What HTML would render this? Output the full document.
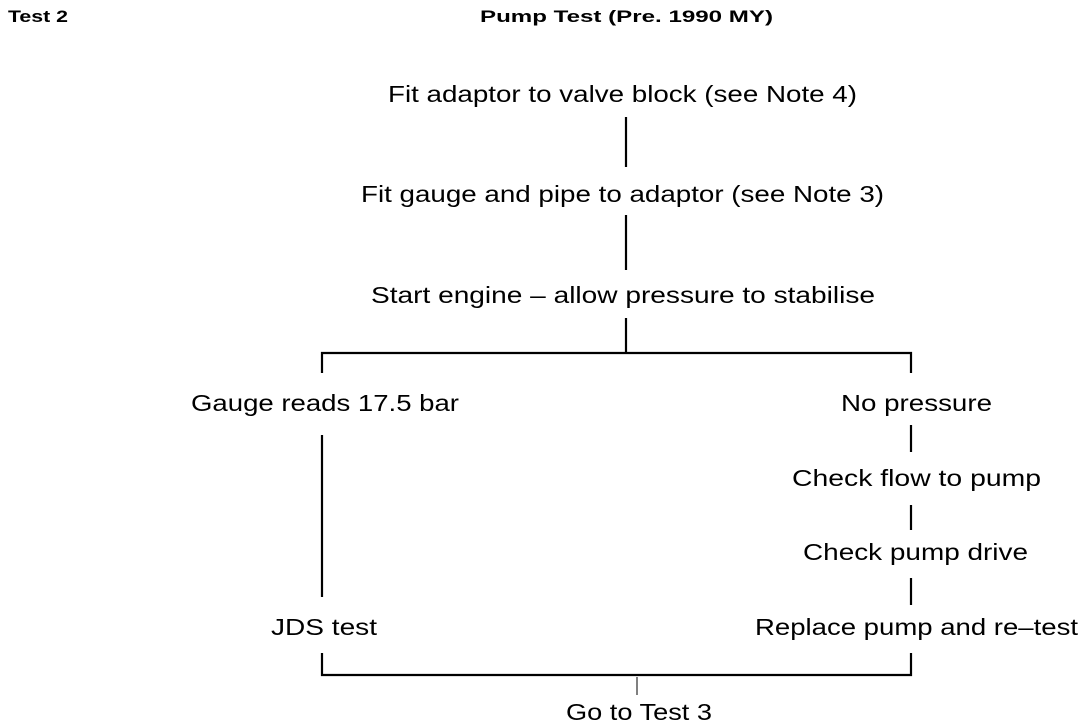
<!DOCTYPE html>
<html><head><style>html,body{margin:0;padding:0;background:#fff}svg{display:block}</style></head>
<body>
<svg width="1088" height="722" viewBox="0 0 1088 722" xmlns="http://www.w3.org/2000/svg" font-family="Liberation Sans, sans-serif" fill="#000">
<g font-weight="bold" font-size="17">
<text x="8" y="22" textLength="60" lengthAdjust="spacingAndGlyphs">Test 2</text>
<text x="480" y="22" textLength="293" lengthAdjust="spacingAndGlyphs">Pump Test (Pre. 1990 MY)</text>
</g>
<g font-size="23">
<text x="388" y="102" textLength="469" lengthAdjust="spacingAndGlyphs">Fit adaptor to valve block (see Note 4)</text>
<text x="361" y="202" textLength="523" lengthAdjust="spacingAndGlyphs">Fit gauge and pipe to adaptor (see Note 3)</text>
<text x="371" y="303" textLength="504" lengthAdjust="spacingAndGlyphs">Start engine – allow pressure to stabilise</text>
<text x="191" y="411" textLength="268" lengthAdjust="spacingAndGlyphs">Gauge reads 17.5 bar</text>
<text x="841" y="411" textLength="151" lengthAdjust="spacingAndGlyphs">No pressure</text>
<text x="792" y="486" textLength="249" lengthAdjust="spacingAndGlyphs">Check flow to pump</text>
<text x="803" y="560" textLength="225" lengthAdjust="spacingAndGlyphs">Check pump drive</text>
<text x="271" y="635" textLength="106" lengthAdjust="spacingAndGlyphs">JDS test</text>
<text x="755" y="635" textLength="323" lengthAdjust="spacingAndGlyphs">Replace pump and re–test</text>
<text x="566" y="720" textLength="146" lengthAdjust="spacingAndGlyphs">Go to Test 3</text>
</g>
<g stroke="#000" stroke-width="2.2" fill="none">
<line x1="626" y1="117" x2="626" y2="167"/>
<line x1="626" y1="215" x2="626" y2="270"/>
<line x1="626" y1="318" x2="626" y2="353"/>
<polyline points="322,373 322,353 911,353 911,373"/>
<line x1="322" y1="435" x2="322" y2="597"/>
<line x1="911" y1="425" x2="911" y2="452"/>
<line x1="911" y1="505" x2="911" y2="530"/>
<line x1="911" y1="578" x2="911" y2="605"/>
<polyline points="322,653 322,675 911,675 911,653"/>
</g>
<line x1="637" y1="677" x2="637" y2="695" stroke="#000" stroke-width="1"/>
</svg>
</body></html>
